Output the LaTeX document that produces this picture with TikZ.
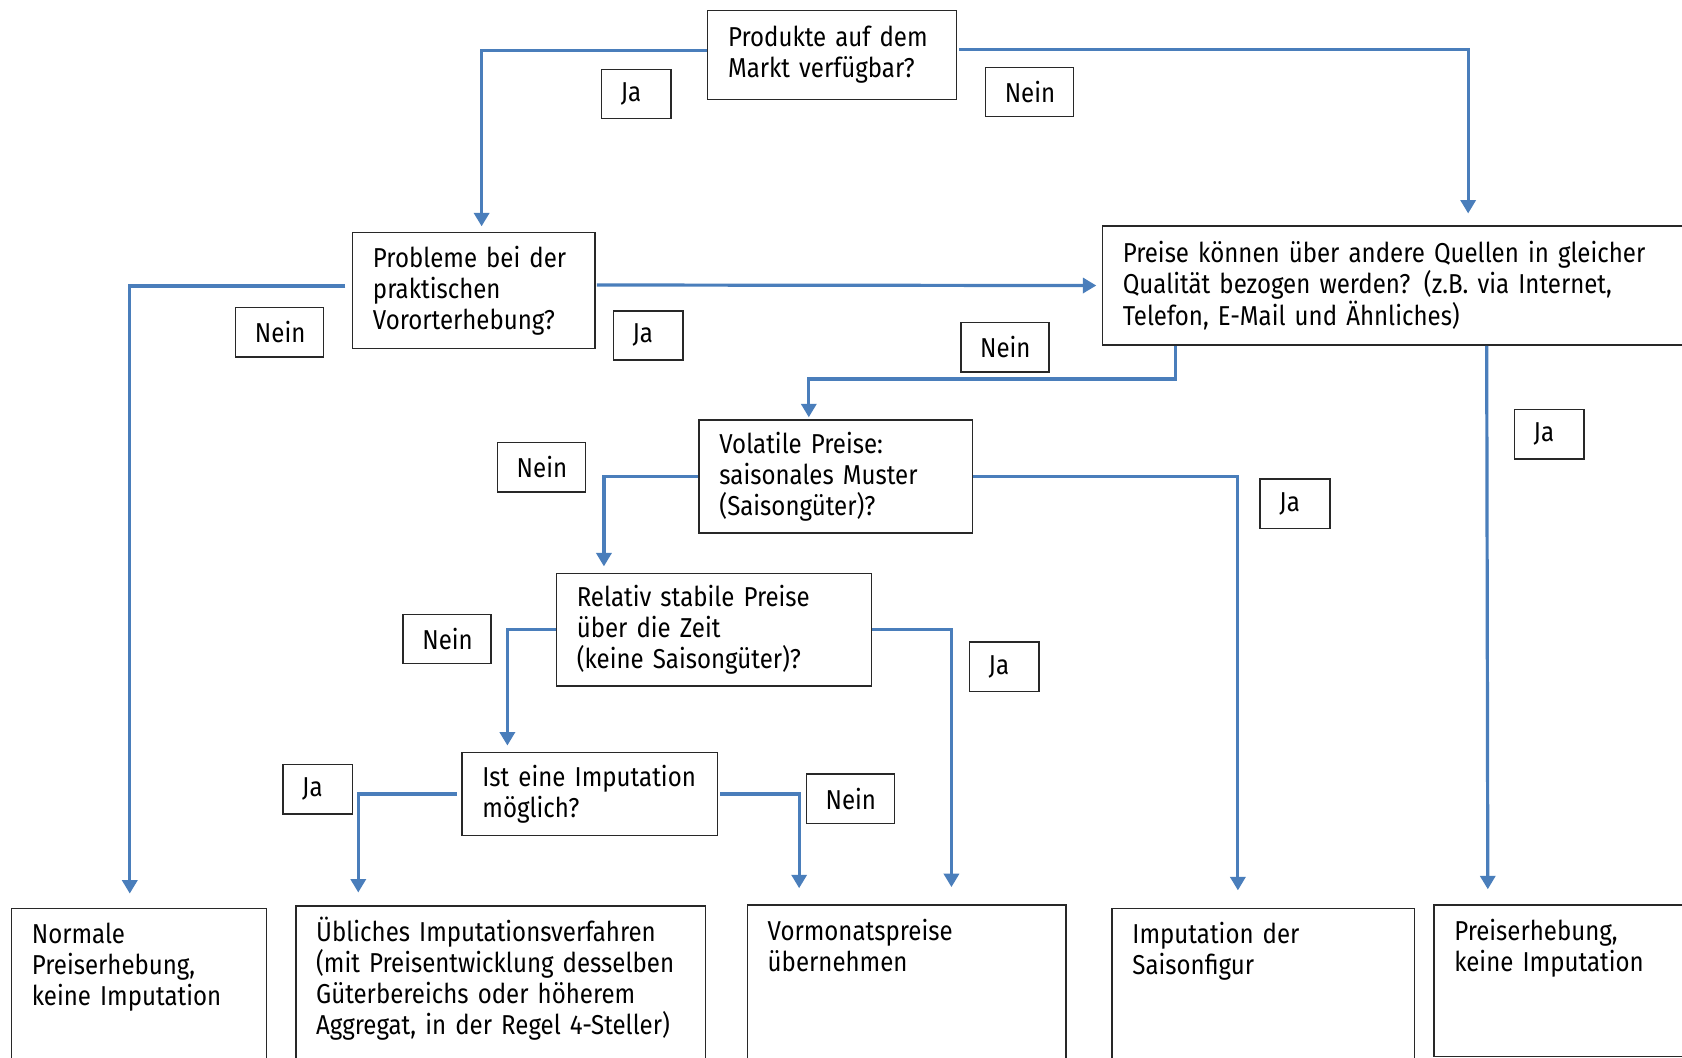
\documentclass[tikz,border=0pt]{standalone}
\usepackage{fontspec}
\setmainfont{Fira Sans}[FakeStretch=0.88]
\usepackage{tikz}
\usetikzlibrary{arrows.meta}
\definecolor{flowColor}{RGB}{74,126,187}
\definecolor{boxColor}{RGB}{40,40,40}

\begin{document}
\begin{tikzpicture}[x=0.02cm,y=-0.02cm,font=\fontsize{14.5}{16.5}\selectfont]

          \tikzstyle{questionNode} = [draw=boxColor, line width=0.8pt, anchor=north west, align=left, inner xsep=0.38cm, inner ysep=0pt];
          \tikzstyle{resultNode} = [draw=boxColor, line width=0.8pt, anchor=north west, align=left, inner xsep=0.38cm, inner ysep=0.32cm, text height=0.34cm, text depth=2.3cm];
          \tikzstyle{jaNode} = [draw=boxColor, line width=0.8pt, anchor=north west, align=left, inner xsep=0.36cm, text width=0.58cm, minimum height=0.92cm];
          \tikzstyle{neinNode} = [jaNode, text width=0.92cm];

          \tikzstyle{flowEdge} = [line width=1.7pt, flowColor, -{Triangle[width=0.28cm,length=0.25cm]}];

          \path[use as bounding box, clip] (0,0) rectangle (1568,986);

          \node[questionNode, text width=3.88cm, minimum height=1.66cm] (produkte) at (659,9) {Produkte auf dem\\Markt verfügbar?};
          \node[questionNode, text width=3.76cm, minimum height=2.16cm] (probleme) at (328,216) {Probleme bei der\\praktischen\\Vororterhebung?};
          \node[questionNode, text width=12.88cm, minimum height=2.22cm] (quellen) at (1027,210) {Preise können über andere Quellen in gleicher\\Qualität bezogen werden? (z.B. via Internet,\\Telefon, E-Mail und Ähnliches)};
          \node[questionNode, text width=4.34cm, minimum height=2.10cm] (volatil) at (651,391) {Volatile Preise:\\saisonales Muster\\(Saisongüter)?};
          \node[questionNode, text width=5.12cm, minimum height=2.10cm] (stabil) at (518,534) {Relativ stabile Preise\\über die Zeit\\(keine Saisongüter)?};
          \node[questionNode, text width=4.00cm, minimum height=1.54cm] (imputation) at (430,701) {Ist eine Imputation\\möglich?};

          \node[resultNode, text width=4.00cm] (normal) at (10,846) {Normale\\Preiserhebung,\\keine Imputation};
          \node[resultNode, text width=6.88cm] (ueblich) at (275,844) {Übliches Imputationsverfahren\\(mit Preisentwicklung desselben\\Güterbereichs oder höherem\\Aggregat, in der Regel 4-Steller)};
          \node[resultNode, text width=5.18cm] (vormonat) at (696,843) {Vormonatspreise\\übernehmen};
          \node[resultNode, text width=4.88cm] (saison) at (1036,846) {Imputation der\\Saisonfigur};
          \node[resultNode, text width=4.24cm, text depth=1.84cm] (erhebung) at (1336,843) {Preiserhebung,\\keine Imputation};

          \node[jaNode] (jaA) at (560,64) {Ja};
          \node[neinNode] (neinA) at (918,62) {Nein};
          \node[neinNode] (neinB) at (219,286) {Nein};
          \node[jaNode] (jaB) at (571,289) {Ja};
          \node[neinNode] (neinC) at (895,300) {Nein};
          \node[jaNode] (jaC) at (1411,381) {Ja};
          \node[neinNode] (neinD) at (463,412) {Nein};
          \node[jaNode] (jaD) at (1174,446) {Ja};
          \node[neinNode] (neinE) at (375,572) {Nein};
          \node[jaNode] (jaE) at (903,598) {Ja};
          \node[jaNode] (jaF) at (263,712) {Ja};
          \node[neinNode] (neinF) at (751,721) {Nein};

          \draw[flowEdge, shorten >=0.1cm] ([yshift=0.08cm]produkte.west) -| ([xshift=2.42cm]probleme.north west);
          \draw[flowEdge, shorten >=0.22cm, shorten <=0.04cm] ([yshift=0.1cm]produkte.east) -| (quellen.north);
          \draw[flowEdge, shorten >=0.26cm, shorten <=0.12cm] ([yshift=0.08cm]probleme.west) -| ([xshift=2.22cm]normal.north west);
          \draw[flowEdge, shorten >=0.1cm, shorten <=0.02cm] ([yshift=0.1cm]probleme.east) -- (quellen.west);
          \draw[flowEdge, shorten >=0.04cm] ([xshift=1.38cm]quellen.south west) -- ++(0,-0.62cm) -| ([xshift=2.06cm]volatil.north west);
          \draw[flowEdge, shorten >=0.28cm] ([xshift=7.18cm]quellen.south west) -- ([xshift=1.02cm]erhebung.north west);
          \draw[flowEdge, shorten >=0.12cm] (volatil.west) -| ([xshift=0.9cm]stabil.north west);
          \draw[flowEdge, shorten >=0.32cm] (volatil.east) -| ([xshift=2.36cm]saison.north west);
          \draw[flowEdge, shorten >=0.12cm] (stabil.west) -| ([xshift=0.86cm]imputation.north west);
          \draw[flowEdge, shorten >=0.32cm] (stabil.east) -| ([xshift=3.82cm]vormonat.north west);
          \draw[flowEdge, shorten >=0.24cm, shorten <=0.08cm] (imputation.west) -| ([xshift=1.18cm]ueblich.north west);
          \draw[flowEdge, shorten >=0.3cm, shorten <=0.04cm] (imputation.east) -| ([xshift=0.98cm]vormonat.north west);
        \end{tikzpicture}
\end{document}
